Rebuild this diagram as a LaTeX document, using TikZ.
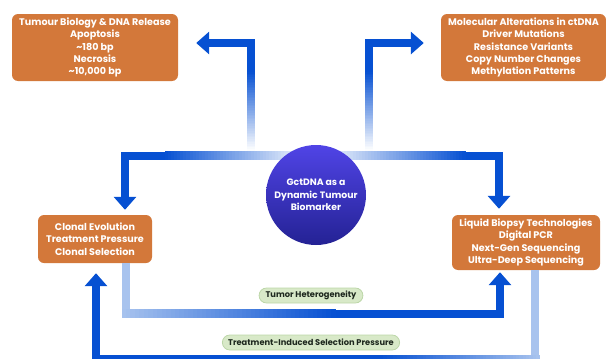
\documentclass[tikz,border=0pt]{standalone}
\usepackage{fontspec}
\setmainfont{Poppins}
\usetikzlibrary{arrows.meta,calc,shapes.misc}
\definecolor{boxorange}{RGB}{211,120,58}
\definecolor{flowblue}{RGB}{6,80,210}
\definecolor{lightflow}{RGB}{168,195,238}
\definecolor{circtop}{RGB}{80,68,230}
\definecolor{circbot}{RGB}{36,34,148}
\definecolor{pillfill}{RGB}{216,233,200}
\definecolor{pilldraw}{RGB}{188,214,168}
\definecolor{pilltext}{RGB}{30,40,30}
\tikzset{
  obox/.style={rectangle, rounded corners=6pt, fill=boxorange, text=white, align=center,
    font=\bfseries\fontsize{9.6}{12.2}\selectfont, inner sep=2pt},
  core/.style={circle, minimum size=100pt, inner sep=0pt, top color=circtop, bottom color=circbot,
    text=white, align=center, font=\bfseries\fontsize{9.3}{12.6}\selectfont},
  pill/.style={rounded rectangle, fill=pillfill, draw=pilldraw, line width=0.8pt, minimum height=15pt,
    inner xsep=5pt, inner ysep=0pt, text=pilltext, font=\bfseries\fontsize{8.3}{9}\selectfont},
  flow/.style={draw=flowblue, line width=8pt, -{Triangle[length=13pt,width=22pt]}},
}
% colour ramp painted over a straight stretch of connector: x1<x2 (or y1<y2)
\newcommand\gradH[5]{% x1, x2, y, colour at x1, colour at x2
  \foreach \k in {0,...,47}{%
    \pgfmathsetmacro\xa{#1+(#2-#1)*\k/48}%
    \pgfmathsetmacro\xb{#1+(#2-#1)*(\k+1)/48+0.5}%
    \pgfmathsetmacro\pc{100*(\k+0.5)/48}%
    \fill[#5!\pc!#4] (\xa,#3-4.4) rectangle (\xb,#3+4.4);}}
\newcommand\gradV[5]{% y1, y2, x, colour at y1, colour at y2
  \foreach \k in {0,...,47}{%
    \pgfmathsetmacro\ya{#1+(#2-#1)*\k/48}%
    \pgfmathsetmacro\yb{#1+(#2-#1)*(\k+1)/48+0.5}%
    \pgfmathsetmacro\pc{100*(\k+0.5)/48}%
    \fill[#5!\pc!#4] (#3-4.4,\ya) rectangle (#3+4.4,\yb);}}
\begin{document}
\begin{tikzpicture}[x=1pt,y=-1pt]
\useasboundingbox (0,0) rectangle (606,359);
% boxes
\node[obox, minimum width=166pt, minimum height=67pt] (tl) at (95,47.5)
  {Tumour Biology \& DNA Release\\Apoptosis\\\textasciitilde180 bp\\Necrosis\\\textasciitilde10,000 bp};
\node[obox, minimum width=165pt, minimum height=67pt] (tr) at (523.5,47.5)
  {Molecular Alterations in ctDNA\\Driver Mutations\\Resistance Variants\\Copy Number Changes\\Methylation Patterns};
\node[obox, minimum width=114pt, minimum height=48pt] (lb) at (95,239)
  {Clonal Evolution\\Treatment Pressure\\Clonal Selection};
\node[obox, minimum width=148pt, minimum height=55pt] (rb) at (526,242.5)
  {Liquid Biopsy Technologies\\Digital PCR\\Next-Gen Sequencing\\Ultra-Deep Sequencing};
% connector end points
\coordinate (a1s) at (251,150);
\coordinate (a1t) at ($(tl.east)+(18,-4.5)$);
\coordinate (a2s) at (369,150);
\coordinate (a2t) at ($(tr.west)+(-17,-4.5)$);
\coordinate (a3s) at (312,155.5);
\coordinate (a3t) at ($(lb.north)+(30,-5)$);
\coordinate (a4s) at (320,155.5);
\coordinate (a4t) at ($(rb.north)+(-27,-6)$);
\coordinate (a5s) at ($(lb.south)+(31,0)$);
\coordinate (a5t) at ($(rb.south)+(-26,2)$);
\coordinate (a6s) at ($(rb.south)+(9,0)$);
\coordinate (a6t) at ($(lb.south)+(1,10)$);
% connectors
\draw[flow] (a1s) |- (a1t);
\draw[flow] (a2s) |- (a2t);
\draw[flow] (a3s) -| (a3t);
\draw[flow] (a4s) -| (a4t);
\draw[flow] (a5s) |- ($(a5t)+(0,41.5)$) -- (a5t);
\draw[flow] (a6s) |- ($(a6t)+(0,86)$) -- (a6t);
% colour ramps along the connectors
\gradV{72}{150.5}{251}{flowblue}{white}
\gradV{72}{150.5}{369}{flowblue}{white}
\gradH{165}{312}{155.5}{flowblue}{white}
\gradH{320}{465}{155.5}{white}{flowblue}
\fill[lightflow] (121.6,262.5) rectangle (130.4,313.5);
\gradH{121.6}{335}{313.5}{lightflow}{flowblue}
\fill[lightflow] (530.6,269.5) rectangle (539.4,364);
\gradH{380}{539.4}{359}{flowblue}{lightflow}
% central node
\node[core] (core) at (316,195) {GctDNA as a\\Dynamic Tumour\\Biomarker};
% labels
\node[pill] (ph) at (311,295.5) {Tumor Heterogeneity};
\node[pill] (pt) at (311,342.5) {Treatment-Induced Selection Pressure};
\end{tikzpicture}
\end{document}
